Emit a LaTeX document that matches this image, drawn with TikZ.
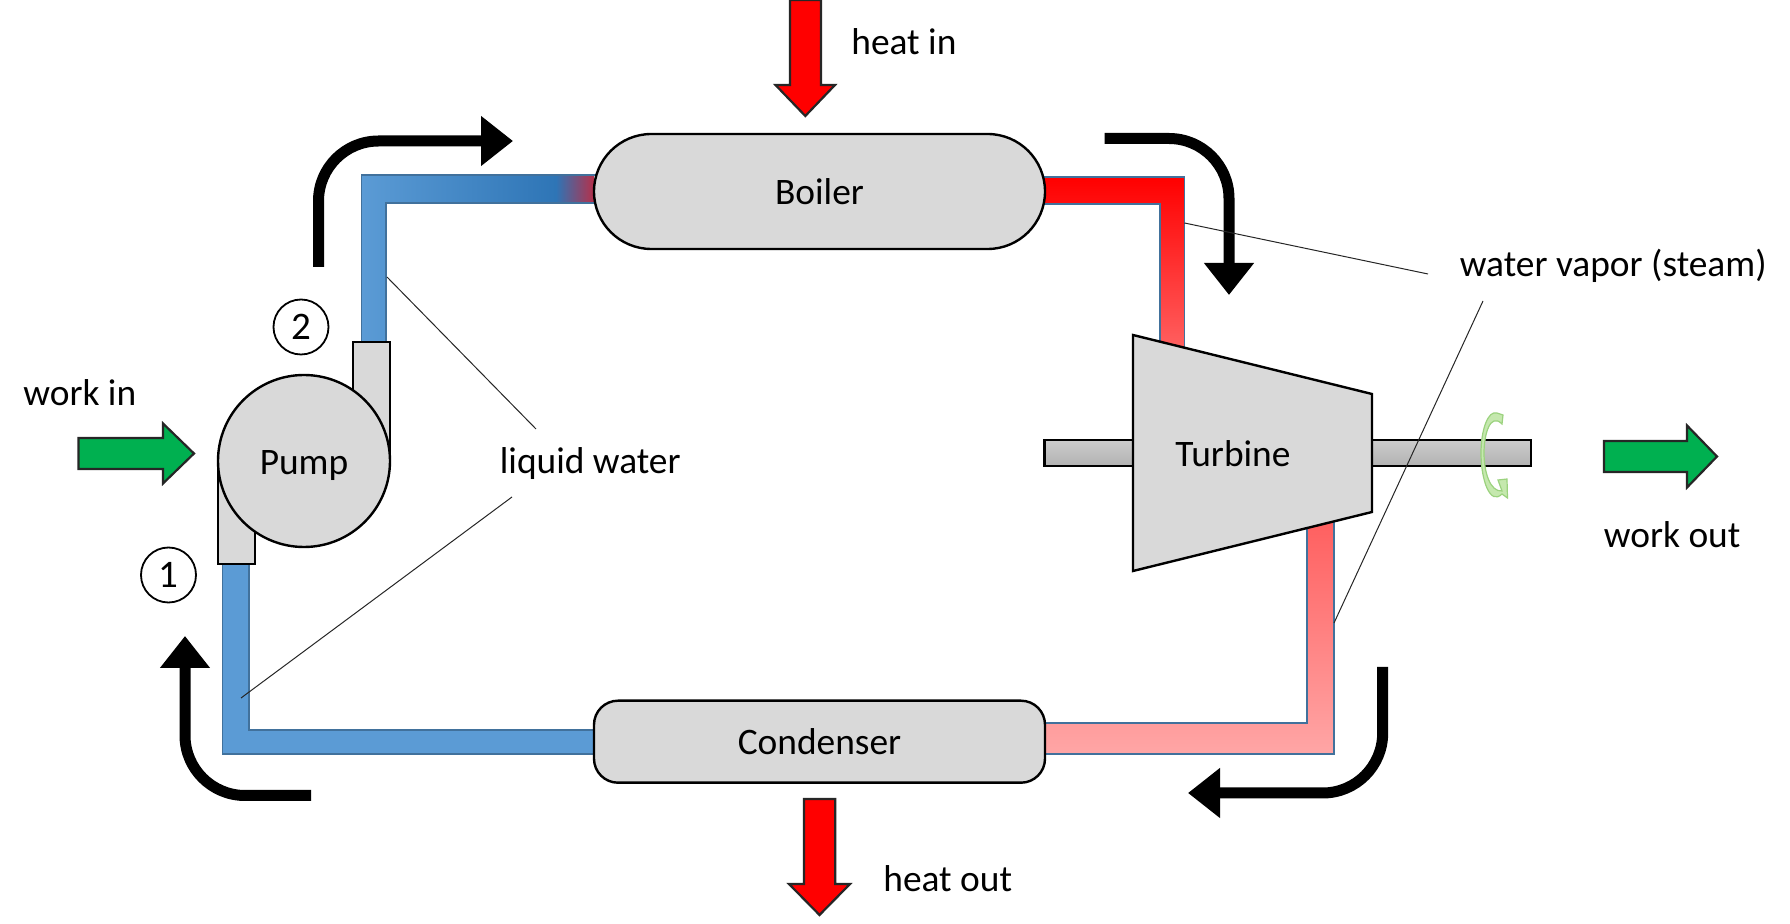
\documentclass[tikz,border=0pt]{standalone}
\usepackage{fontspec}
\setmainfont{Carlito}
\usetikzlibrary{arrows.meta}
\definecolor{partgray}{HTML}{D9D9D9}
\definecolor{pipeblue}{HTML}{5B9BD5}
\definecolor{pipedark}{HTML}{2E75B6}
\definecolor{pipemix}{HTML}{B5304A}
\definecolor{pipeedge}{HTML}{41719C}
\definecolor{workgreen}{HTML}{00B050}
\definecolor{spinfill}{HTML}{C5E8AE}
\definecolor{spinedge}{HTML}{9BD27E}
\begin{document}
\begin{tikzpicture}[x=.5pt,y=-.5pt,
  lab/.style={font=\fontsize{18.7}{22}\selectfont, inner sep=0pt, anchor=base west},
  part/.style={draw=black, line width=1.2pt, fill=partgray},
  unit/.style={part, font=\fontsize{18.7}{22}\selectfont, inner sep=0pt, text depth=0pt},
  state/.style={draw=black, line width=.9pt, circle, minimum size=27.5pt, inner sep=0pt, font=\fontsize{19.5}{22}\selectfont, text depth=0pt},
  flow/.style={line width=5.5pt, rounded corners=30pt, -{Triangle[width=24pt,length=16pt]}},
  leader/.style={line width=.5pt, draw=black!85},
  pipe/.style={draw=pipeedge, line width=.8pt},
  heat/.style={draw=black!85, line width=1.1pt, fill=red},
  work/.style={draw=black!85, line width=1.1pt, fill=workgreen}]
\useasboundingbox(0,0)rectangle(1790,924);
% pipes
\draw[pipe, fill=pipeblue](600,730)--(249,730)--(249,560)--(222.5,560)--(222.5,754)--(600,754);
\path[left color=pipeblue, right color=pipedark](361.5,342)--(361.5,175)--(556,175)--(556,203)--(386,203)--(386,342)--cycle;
\path[left color=pipedark, right color=pipemix](556,175)rectangle(594,203);
\draw[pipe](386,342)--(386,203)--(600,203);
\draw[pipe](361.5,342)--(361.5,175)--(600,175);
\shade[pipe, top color=red, bottom color=red!60](1040,177)--(1184.5,177)--(1184.5,360)--(1160,360)--(1160,204)--(1040,204)--cycle;
\shade[pipe, top color=red!65, middle color=red!40, bottom color=red!35](1040,723)--(1307,723)--(1307,500)--(1334,500)--(1334,754)--(1040,754)--cycle;
% shaft and turbine
\shade[draw=black, line width=1.2pt, top color=black!20, middle color=black!12, bottom color=black!30](1044.5,440)rectangle(1531,466);
\draw[part](1133,335)--(1372,394)--(1372,512)--(1133,571)--cycle;
\node(turbine)[lab, anchor=base]at(1233,467){Turbine};
% pump
\draw[part](353,342)rectangle(390,453);
\draw[part](218,453)rectangle(255,564);
\node(pump)[unit, circle, minimum size=86pt, text height=14pt]at(304,461){Pump};
\node(boiler)[unit, rounded corners=28.7pt, minimum width=225.5pt, minimum height=57.5pt]at(819.5,191.5){Boiler};
\node(condenser)[unit, rounded corners=12pt, minimum width=225.5pt, minimum height=41pt]at(819.5,741.7){Condenser};
\node(state1)[state]at(168.5,575){1};
\node(state2)[state]at(301,327){2};
% flow direction
\coordinate(flowa)at(318.5,267);\coordinate(flowb)at(513,141);
\coordinate(flowc)at(1104.5,138.5);\coordinate(flowd)at(1229,295);
\coordinate(flowe)at(1382.7,667);\coordinate(flowf)at(1188,793);
\coordinate(flowg)at(311,795.5);\coordinate(flowh)at(185,636);
\draw[flow](flowa)|-(flowb);
\draw[flow](flowc)-|(flowd);
\draw[flow](flowe)|-(flowf);
\draw[flow](flowg)-|(flowh);
% heat and work
\draw[heat](790,0)--(790,85)--(775.5,85)--(805.3,116)--(835,85)--(821,85)--(821,0)--cycle;
\draw[heat](804,799)--(804,884)--(789,884)--(819.5,915)--(850,884)--(835.3,884)--(835.3,799)--cycle;
\draw[work](78.5,438)--(163,438)--(163,423.5)--(194,453.5)--(163,483.5)--(163,469)--(78.5,469)--cycle;
\draw[work](1604,441)--(1687,441)--(1687,425.5)--(1717,456.5)--(1687,487.5)--(1687,472)--(1604,472)--cycle;
\draw[draw=spinedge, line width=.6pt, fill=spinfill](1502,424) .. controls (1490,412) and (1484,435) .. (1484,453) .. controls (1484,472) and (1490,492) .. (1502,491)--(1498,480)--(1507,479)--(1507.5,498)--(1502,494) .. controls (1490,506) and (1481,480) .. (1481,453) .. controls (1481,430) and (1488,410) .. (1497,413)--(1503,415)--cycle;
% labels
\node(heatin)[lab]at(851,55){heat in};
\node(heatout)[lab]at(883,892){heat out};
\node(workin)[lab]at(23,406){work in};
\node(workout)[lab]at(1603.5,548){work out};
\node(liquid)[lab]at(499.5,474){liquid water};
\node(vapor)[lab]at(1459.5,277){water vapor (steam)};
\coordinate(lqa)at(387,277);\coordinate(lqb)at(536,429);
\coordinate(lqc)at(512,497);\coordinate(lqd)at(241,698);
\coordinate(vpa)at(1184.5,223);\coordinate(vpb)at(1428,274);
\coordinate(vpc)at(1483,301);\coordinate(vpd)at(1334,623);
\draw[leader](lqa)--(lqb);
\draw[leader](lqc)--(lqd);
\draw[leader](vpa)--(vpb);
\draw[leader](vpc)--(vpd);
\end{tikzpicture}
\end{document}
